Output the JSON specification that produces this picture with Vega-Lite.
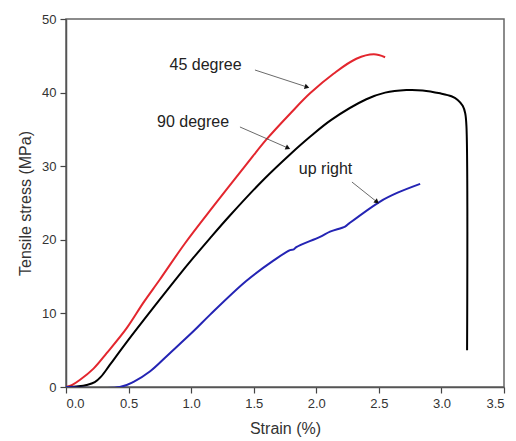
{
  "$schema": "https://vega.github.io/schema/vega-lite/v6.json",
  "width": 438,
  "height": 368,
  "autosize": "none",
  "padding": {"left": 66, "top": 19, "right": 12, "bottom": 54},
  "background": "white",
  "config": {
    "view": {"stroke": "#666", "strokeWidth": 1.5},
    "font": "Liberation Sans",
    "axis": {"grid": false, "labelFont": "Liberation Sans", "titleFont": "Liberation Sans", "labelColor": "#333", "titleColor": "#333", "tickColor": "#444", "domainColor": "#555", "domainWidth": 1.5, "tickWidth": 1.2, "labelFontSize": 13, "titleFontSize": 16, "titleFontWeight": "normal", "labelOverlap": false}
  },
  "datasets": {
    "curves": [
      {"series": "45 degree", "i": 1, "strain": 0, "stress": 0},
      {"series": "45 degree", "i": 2, "strain": 0.05, "stress": 0.3},
      {"series": "45 degree", "i": 3, "strain": 0.11, "stress": 0.95},
      {"series": "45 degree", "i": 4, "strain": 0.22, "stress": 2.5},
      {"series": "45 degree", "i": 5, "strain": 0.325, "stress": 4.6},
      {"series": "45 degree", "i": 6, "strain": 0.485, "stress": 8.0},
      {"series": "45 degree", "i": 7, "strain": 0.62, "stress": 11.5},
      {"series": "45 degree", "i": 8, "strain": 0.75, "stress": 14.6},
      {"series": "45 degree", "i": 9, "strain": 0.95, "stress": 19.5},
      {"series": "45 degree", "i": 10, "strain": 1.18, "stress": 24.6},
      {"series": "45 degree", "i": 11, "strain": 1.44, "stress": 30.2},
      {"series": "45 degree", "i": 12, "strain": 1.6, "stress": 33.6},
      {"series": "45 degree", "i": 13, "strain": 1.8, "stress": 37.3},
      {"series": "45 degree", "i": 14, "strain": 1.95, "stress": 39.9},
      {"series": "45 degree", "i": 15, "strain": 2.14, "stress": 42.6},
      {"series": "45 degree", "i": 16, "strain": 2.32, "stress": 44.6},
      {"series": "45 degree", "i": 17, "strain": 2.46, "stress": 45.2},
      {"series": "45 degree", "i": 18, "strain": 2.55, "stress": 44.8},
      {"series": "90 degree", "i": 1, "strain": 0, "stress": 0},
      {"series": "90 degree", "i": 2, "strain": 0.1, "stress": 0.1},
      {"series": "90 degree", "i": 3, "strain": 0.165, "stress": 0.27},
      {"series": "90 degree", "i": 4, "strain": 0.23, "stress": 0.65},
      {"series": "90 degree", "i": 5, "strain": 0.28, "stress": 1.4},
      {"series": "90 degree", "i": 6, "strain": 0.35, "stress": 3.0},
      {"series": "90 degree", "i": 7, "strain": 0.485, "stress": 6.1},
      {"series": "90 degree", "i": 8, "strain": 0.75, "stress": 11.9},
      {"series": "90 degree", "i": 9, "strain": 0.885, "stress": 14.8},
      {"series": "90 degree", "i": 10, "strain": 1.02, "stress": 17.6},
      {"series": "90 degree", "i": 11, "strain": 1.15, "stress": 20.2},
      {"series": "90 degree", "i": 12, "strain": 1.31, "stress": 23.3},
      {"series": "90 degree", "i": 13, "strain": 1.58, "stress": 28.2},
      {"series": "90 degree", "i": 14, "strain": 1.79, "stress": 31.6},
      {"series": "90 degree", "i": 15, "strain": 1.95, "stress": 34.0},
      {"series": "90 degree", "i": 16, "strain": 2.12, "stress": 36.3},
      {"series": "90 degree", "i": 17, "strain": 2.4, "stress": 39.1},
      {"series": "90 degree", "i": 18, "strain": 2.55, "stress": 40.0},
      {"series": "90 degree", "i": 19, "strain": 2.72, "stress": 40.35},
      {"series": "90 degree", "i": 20, "strain": 2.85, "stress": 40.3},
      {"series": "90 degree", "i": 21, "strain": 2.99, "stress": 39.9},
      {"series": "90 degree", "i": 22, "strain": 3.08, "stress": 39.5},
      {"series": "90 degree", "i": 23, "strain": 3.13, "stress": 39.0},
      {"series": "90 degree", "i": 24, "strain": 3.17, "stress": 38.2},
      {"series": "90 degree", "i": 25, "strain": 3.19, "stress": 37.2},
      {"series": "90 degree", "i": 26, "strain": 3.2, "stress": 35.4},
      {"series": "90 degree", "i": 27, "strain": 3.205, "stress": 5.0},
      {"series": "up right", "i": 1, "strain": 0, "stress": 0},
      {"series": "up right", "i": 2, "strain": 0.43, "stress": 0},
      {"series": "up right", "i": 3, "strain": 0.54, "stress": 0.7},
      {"series": "up right", "i": 4, "strain": 0.67, "stress": 2.1},
      {"series": "up right", "i": 5, "strain": 0.83, "stress": 4.6},
      {"series": "up right", "i": 6, "strain": 1.02, "stress": 7.6},
      {"series": "up right", "i": 7, "strain": 1.15, "stress": 9.8},
      {"series": "up right", "i": 8, "strain": 1.44, "stress": 14.4},
      {"series": "up right", "i": 9, "strain": 1.66, "stress": 17.2},
      {"series": "up right", "i": 10, "strain": 1.79, "stress": 18.6},
      {"series": "up right", "i": 11, "strain": 1.82, "stress": 18.7},
      {"series": "up right", "i": 12, "strain": 1.84, "stress": 19.0},
      {"series": "up right", "i": 13, "strain": 2.03, "stress": 20.4},
      {"series": "up right", "i": 14, "strain": 2.11, "stress": 21.1},
      {"series": "up right", "i": 15, "strain": 2.23, "stress": 21.8},
      {"series": "up right", "i": 16, "strain": 2.26, "stress": 22.2},
      {"series": "up right", "i": 17, "strain": 2.51, "stress": 25.2},
      {"series": "up right", "i": 18, "strain": 2.65, "stress": 26.4},
      {"series": "up right", "i": 19, "strain": 2.83, "stress": 27.6}
    ],
    "labels": [
      {"text": "45 degree", "strain": 1.115, "stress": 43.75},
      {"text": "90 degree", "strain": 1.015, "stress": 36.0},
      {"text": "up right", "strain": 2.074, "stress": 29.6}
    ],
    "arrows": [
      {"name": "45", "strain": 1.51, "stress": 43.07, "strain2": 1.926, "stress2": 40.76},
      {"name": "90", "strain": 1.39, "stress": 35.33, "strain2": 1.774, "stress2": 32.47},
      {"name": "up", "strain": 2.285, "stress": 27.85, "strain2": 2.485, "stress2": 25.14}
    ]
  },
  "layer": [
    {
      "data": {"name": "curves"},
      "mark": {"type": "line", "strokeWidth": 2, "clip": true, "interpolate": "catmull-rom"},
      "encoding": {
        "x": {"field": "strain", "type": "quantitative", "scale": {"domain": [0, 3.5], "nice": false, "zero": false},
          "axis": {"orient": "bottom", "values": [0, 0.25, 0.5, 0.75, 1, 1.25, 1.5, 1.75, 2, 2.25, 2.5, 2.75, 3, 3.25, 3.5],
            "labelExpr": "datum.value % 0.5 == 0 ? format(datum.value, '.1f') : ''",
            "tickSize": {"condition": {"test": "datum.value % 0.5 != 0", "value": 3}, "value": 6},
            "labelPadding": 4, "titlePadding": 10, "title": "Strain (%)"}},
        "y": {"field": "stress", "type": "quantitative", "scale": {"domain": [0, 50], "nice": false},
          "axis": {"orient": "left", "values": [0, 5, 10, 15, 20, 25, 30, 35, 40, 45, 50],
            "labelExpr": "datum.value % 10 == 0 ? format(datum.value, 'd') : ''",
            "tickSize": {"condition": {"test": "datum.value % 10 != 0", "value": 3}, "value": 6},
            "labelPadding": 4, "titlePadding": 8, "title": "Tensile stress (MPa)"}},
        "color": {"field": "series", "type": "nominal", "scale": {"domain": ["45 degree", "90 degree", "up right"], "range": ["#e3262e", "#000000", "#2424b4"]}, "legend": null},
        "order": {"field": "i", "type": "quantitative"}
      }
    },
    {
      "data": {"name": "arrows"},
      "mark": {"type": "rule", "color": "#444", "strokeWidth": 0.8},
      "encoding": {
        "x": {"field": "strain", "type": "quantitative"},
        "y": {"field": "stress", "type": "quantitative"},
        "x2": {"field": "strain2"},
        "y2": {"field": "stress2"}
      }
    },
    {
      "data": {"name": "arrows"},
      "transform": [{"filter": "datum.name == '45'"}],
      "mark": {"type": "point", "shape": "triangle-right", "filled": true, "color": "#111", "size": 30, "angle": 18, "opacity": 1},
      "encoding": {
        "x": {"field": "strain2", "type": "quantitative"},
        "y": {"field": "stress2", "type": "quantitative"}
      }
    },
    {
      "data": {"name": "arrows"},
      "transform": [{"filter": "datum.name == '90'"}],
      "mark": {"type": "point", "shape": "triangle-right", "filled": true, "color": "#111", "size": 30, "angle": 24, "opacity": 1},
      "encoding": {
        "x": {"field": "strain2", "type": "quantitative"},
        "y": {"field": "stress2", "type": "quantitative"}
      }
    },
    {
      "data": {"name": "arrows"},
      "transform": [{"filter": "datum.name == 'up'"}],
      "mark": {"type": "point", "shape": "triangle-right", "filled": true, "color": "#111", "size": 30, "angle": 39, "opacity": 1},
      "encoding": {
        "x": {"field": "strain2", "type": "quantitative"},
        "y": {"field": "stress2", "type": "quantitative"}
      }
    },
    {
      "data": {"name": "labels"},
      "mark": {"type": "text", "fontSize": 16, "font": "Liberation Sans", "color": "#222", "align": "center", "baseline": "middle"},
      "encoding": {
        "x": {"field": "strain", "type": "quantitative"},
        "y": {"field": "stress", "type": "quantitative"},
        "text": {"field": "text"}
      }
    }
  ]
}
